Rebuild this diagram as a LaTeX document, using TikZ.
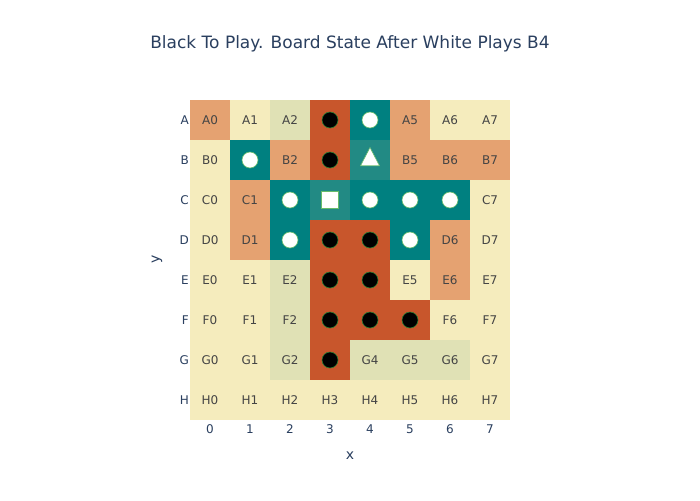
\documentclass[tikz,border=0pt]{standalone}
\usepackage{fontspec}
\setmainfont{DejaVu Sans}
\usetikzlibrary{shapes.geometric}
\definecolor{ly}{HTML}{F5ECBD}
\definecolor{lg}{HTML}{E0E1B5}
\definecolor{pe}{HTML}{E5A271}
\definecolor{do}{HTML}{C8562C}
\definecolor{te}{HTML}{008080}
\definecolor{mt}{HTML}{228A84}
\definecolor{axisblue}{HTML}{2A3F5F}
\definecolor{labgray}{HTML}{444444}
\definecolor{stoneedge}{HTML}{2E7D32}
\definecolor{whiteedge}{HTML}{66BB6A}
\tikzset{
  cell/.style={minimum size=40pt, inner sep=0pt, outer sep=0pt, draw=none},
  celllabel/.style={inner sep=0pt, text=labgray, font=\fontsize{12}{14}\selectfont},
  blackstone/.style={circle, fill=black, draw=stoneedge, line width=0.6pt, minimum size=16pt, inner sep=0pt},
  whitestone/.style={circle, fill=white, draw=whiteedge, line width=0.6pt, minimum size=16pt, inner sep=0pt},
  whitetri/.style={isosceles triangle, isosceles triangle apex angle=55, shape border rotate=90, fill=white, draw=whiteedge, line width=0.6pt, minimum height=18pt, minimum width=19pt, inner sep=0pt},
  whitesq/.style={rectangle, fill=white, draw=whiteedge, line width=0.6pt, minimum size=17pt, inner sep=0pt},
  ticklab/.style={text=axisblue, font=\fontsize{12}{14}\selectfont, inner sep=0pt},
  axtitle/.style={text=axisblue, font=\fontsize{14}{16}\selectfont, inner sep=0pt},
}
\newcommand\gmkL[3]{\node[celllabel] (m#3) at (#1) {#2};}
\newcommand\gmkB[3]{\node[blackstone] (m#3) at (#1) {};}
\newcommand\gmkW[3]{\node[whitestone] (m#3) at (#1) {};}
\newcommand\gmkT[3]{\node[whitetri, anchor=center] (m#3) at (#1) {};}
\newcommand\gmkS[3]{\node[whitesq] (m#3) at (#1) {};}
\begin{document}
\begin{tikzpicture}[x=1pt,y=-1pt]
\useasboundingbox (0,0) rectangle (700,500);
\fill[white] (0,0) rectangle (700,500);
\node[text=axisblue, font=\fontsize{17}{20}\selectfont, inner sep=0pt] (title) at (350,44) {Black To Play. Board State After White Plays B4};
\foreach \rl/\ri/\spec in {
  A/0/{pe/L,ly/L,lg/L,do/B,te/W,pe/L,ly/L,ly/L},
  B/1/{ly/L,te/W,pe/L,do/B,mt/T,pe/L,pe/L,pe/L},
  C/2/{ly/L,pe/L,te/W,mt/S,te/W,te/W,te/W,ly/L},
  D/3/{ly/L,pe/L,te/W,do/B,do/B,te/W,pe/L,ly/L},
  E/4/{ly/L,ly/L,lg/L,do/B,do/B,ly/L,pe/L,ly/L},
  F/5/{ly/L,ly/L,lg/L,do/B,do/B,do/B,ly/L,ly/L},
  G/6/{ly/L,ly/L,lg/L,do/B,lg/L,lg/L,lg/L,ly/L},
  H/7/{ly/L,ly/L,ly/L,ly/L,ly/L,ly/L,ly/L,ly/L}}{
  \node[ticklab, anchor=east] (row\rl) at (189,{120+40*\ri}) {\rl};
  \foreach \fc/\mk [count=\c from 0] in \spec {
    \node[cell, fill=\fc] (c\rl\c) at ({210+40*\c},{120+40*\ri}) {};
    \csname gmk\mk\endcsname{c\rl\c}{\rl\c}{\rl\c}
  }
}
\foreach \c in {0,...,7}{
  \node[ticklab] (col\c) at ({210+40*\c},429) {\c};
}
\node[axtitle] (xtitle) at (350,456) {x};
\node[axtitle, rotate=90] (ytitle) at (157,259) {y};
\end{tikzpicture}
\end{document}
